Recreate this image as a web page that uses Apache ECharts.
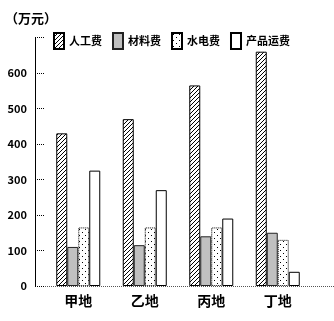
<!DOCTYPE html>
<html><head><meta charset="utf-8">
<script src="https://cdn.jsdelivr.net/npm/echarts@6/dist/echarts.min.js"></script>
<style>html,body{margin:0;padding:0;background:#fff}#c{width:334px;height:321px}</style>
</head><body><div id="c"></div>
<script>
var categories = ['甲地', '乙地', '丙地', '丁地'];
var seriesNames = ['人工费', '材料费', '水电费', '产品运费'];
var laborCost = [430, 470, 565, 660];
var materialCost = [110, 115, 140, 150];
var utilityCost = [165, 165, 165, 130];
var transportCost = [325, 270, 190, 40];
var yTicks = [0, 100, 200, 300, 400, 500, 600];

function pat(draw, w, h) {
  var c = document.createElement('canvas'); c.width = w; c.height = h;
  var g = c.getContext('2d'); g.fillStyle = '#fff'; g.fillRect(0, 0, w, h);
  draw(g); return { image: c, repeat: 'repeat' };
}
var hatch = pat(function (g) {
  g.fillStyle = '#000';
  for (var i = 0; i < 4; i++) { g.fillRect(3 - i, i, 1, 1); }
}, 4, 4);
var dots = pat(function (g) {
  g.fillStyle = '#000'; g.fillRect(1, 1, 1, 1); g.fillRect(4, 4, 1, 1);
}, 6, 6);

var FONT = '"Noto Sans CJK SC", sans-serif';
var chart = echarts.init(document.getElementById('c'), null, { renderer: 'canvas' });
var styles = [
  { color: hatch, borderColor: '#000', borderWidth: 1 },
  { color: '#c0c0c0', borderColor: '#222', borderWidth: 1 },
  { color: dots, borderColor: '#000', borderWidth: 1, borderType: 'dotted' },
  { color: '#fff', borderColor: '#000', borderWidth: 1 }
];
var datas = [laborCost, materialCost, utilityCost, transportCost];
chart.setOption({
  animation: false,
  title: { text: '（万元）', left: 0, top: 7, textStyle: { fontFamily: FONT, fontSize: 13, fontWeight: 'bold', color: '#000' } },
  legend: {
    left: 48, top: 27, icon: 'rect', itemWidth: 10, itemHeight: 16, itemGap: 10,
    textStyle: { fontFamily: FONT, fontSize: 11, fontWeight: 'bold', color: '#000' },
    data: seriesNames
  },
  grid: { left: 45, right: 23, top: 37.5, bottom: 35 },
  xAxis: {
    type: 'category', data: categories,
    axisLine: { show: false }, axisTick: { show: false },
    axisLabel: { fontFamily: FONT, fontSize: 14, fontWeight: 'bold', color: '#000', margin: 8 }
  },
  yAxis: {
    type: 'value', min: 0, max: 700, interval: 100, offset: 10,
    axisLine: { show: true, lineStyle: { color: '#000', width: 1 } },
    axisTick: { show: true, inside: true, length: 10, lineStyle: { color: '#000', type: 'dotted' } },
    splitLine: { show: false },
    axisLabel: {
      fontFamily: FONT, fontSize: 11, fontWeight: 'bold', color: '#000', margin: 8,
      formatter: function (v) { return yTicks.indexOf(v) >= 0 ? String(v) : ''; }
    }
  },
  graphic: [{ type: 'line', shape: { x1: 35, y1: 286.5, x2: 334, y2: 286.5 }, style: { stroke: '#555', lineWidth: 1, lineDash: [1, 1] } }],
  series: seriesNames.map(function (n, i) {
    return { name: n, type: 'bar', data: datas[i], barWidth: 11, barGap: '0%', itemStyle: styles[i] };
  })
});
</script></body></html>
